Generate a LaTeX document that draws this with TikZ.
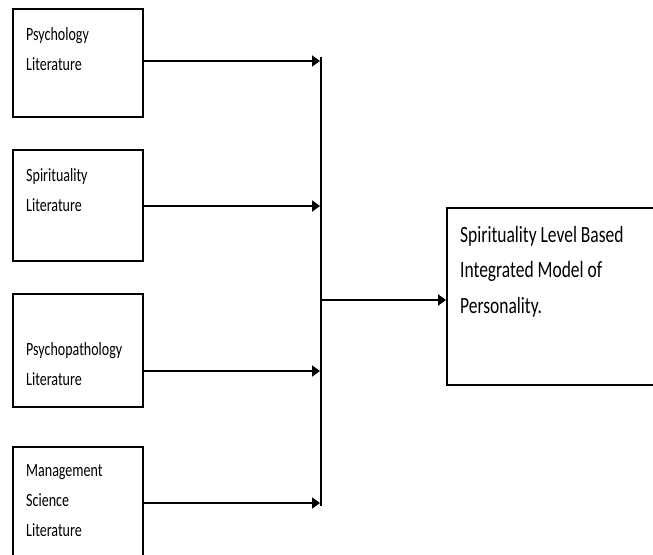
\documentclass[tikz,border=0pt]{standalone}
\usepackage{fontspec}
\setmainfont{Carlito}
% narrow, tall setting of the labels
\newfontfamily\tallfont[FakeStretch=0.75]{Carlito}
\usetikzlibrary{arrows.meta}
\begin{document}
\begin{tikzpicture}[x=1pt,y=-1pt,
  srcbox/.style={draw, line width=1.9pt, inner sep=0pt},
  srctext/.style={anchor=north west, inner sep=0pt, align=left,
    font=\tallfont\fontsize{18.7}{30}\selectfont},
  goaltext/.style={anchor=north west, inner sep=0pt, align=left,
    font=\tallfont\fontsize{23.3}{35.5}\selectfont},
  feed/.style={line width=1.9pt, -{Triangle[length=8pt,width=11pt]}},
  bus/.style={line width=1.9pt}]
\useasboundingbox (0,0) rectangle (653,554);
\clip (0,0) rectangle (653,554);

% source boxes
\node[srcbox, minimum width=130pt, minimum height=108pt] (b1) at (78,63) {};
\node[srcbox, minimum width=130pt, minimum height=111pt] (b2) at (78,205.5) {};
\node[srcbox, minimum width=130pt, minimum height=113pt] (b3) at (78,350.5) {};
\node[srcbox, minimum width=130pt, minimum height=120pt] (b4) at (78,507) {};

\node[srctext] (t1) at (26,27) {Psychology\\Literature};
\node[srctext] (t2) at (26,168) {Spirituality\\Literature};
\node[srctext] (t3) at (26,342) {Psychopathology\\Literature};
\node[srctext] (t4) at (26,464) {Management\\Science\\Literature};

% target box
\node[srcbox, minimum width=220pt, minimum height=177pt] (goal) at (557,296.5) {};
\node[goaltext] (gt) at (460,226) {Spirituality Level Based\\Integrated Model of\\Personality.};

% collecting bus
\coordinate (bustop) at (321,57);
\coordinate (busbot) at (321,506);
\coordinate (busmid) at (321,300);
\coordinate (e1) at (320,61);
\coordinate (e2) at (320,206);
\coordinate (e3) at (320,371);
\coordinate (e4) at (320,503);

\draw[bus] (bustop) -- (busbot);
\draw[feed] (b1.east |- e1) -- (e1);
\draw[feed] (b2.east |- e2) -- (e2);
\draw[feed] (b3.east |- e3) -- (e3);
\draw[feed] (b4.east |- e4) -- (e4);
\draw[feed] (busmid) -- (goal.west |- busmid);
\end{tikzpicture}
\end{document}
